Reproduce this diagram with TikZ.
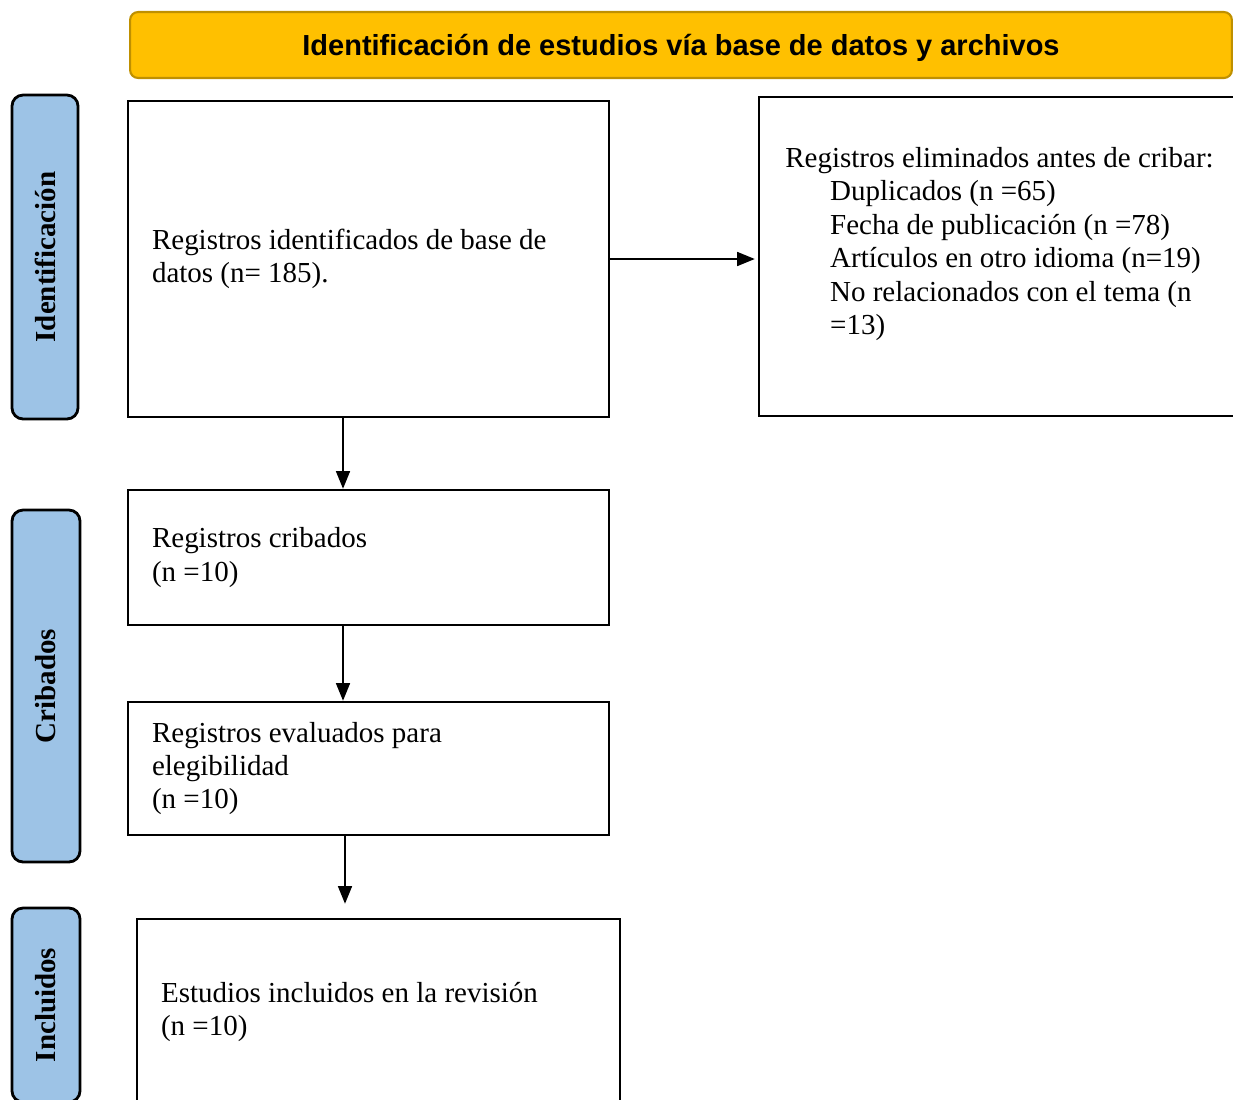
\documentclass[tikz,border=0pt]{standalone}
\usepackage{fontspec}
\setmainfont{Liberation Serif}
\newfontfamily\bannerfont{Liberation Sans}
\usetikzlibrary{arrows.meta, positioning}
\definecolor{bannergold}{HTML}{FFC000}
\definecolor{bannerrim}{HTML}{BF9000}
\definecolor{phaseblue}{HTML}{9DC3E6}

\begin{document}
\begin{tikzpicture}[x=0.02cm, y=-0.02cm,
    every node/.style={font=\fontsize{16.5}{19}\selectfont},
    recbox/.style={draw, line width=1.5pt, fill=white, align=flush left, inner xsep=0.48cm, inner ysep=0pt},
    phase/.style={draw, line width=1.6pt, fill=phaseblue, rounded corners=0.22cm, rotate=90, font=\fontsize{16.5}{19}\selectfont\bfseries},
    flow/.style={-{Triangle[length=10pt, width=8pt]}, line width=0.75pt}]
    \clip (0,0) rectangle (1233,1099);
    % bandeau
    \node[draw=bannerrim, line width=1.2pt, fill=bannergold, rounded corners=0.16cm, minimum width=22.04cm, minimum height=1.32cm, text depth=0pt, font=\bannerfont\fontsize{16.5}{19}\selectfont\bfseries] (banner) at (681,45) {Identificación de estudios vía base de datos y archivos};
    % fases
    \node[phase, minimum width=6.48cm, minimum height=1.32cm] (fase1) at (45,257) {Identificación};
    \node[phase, minimum width=7.04cm, minimum height=1.36cm] (fase2) at (46,686) {Cribados};
    \node[phase, minimum width=3.88cm, minimum height=1.36cm] (fase3) at (46,1005) {Incluidos};
    % registros
    \node[recbox, minimum width=9.62cm, minimum height=6.32cm, text width=8.66cm] (ident) at (368.5,259) {Registros identificados de base de\\ datos (n= 185).};
    \node[recbox, minimum width=10cm, minimum height=6.38cm] (elim) at (1009,256.5) {};
    \node[anchor=north west, inner sep=0pt, align=flush left] (elimtxt) at (785,147) {Registros eliminados antes de cribar:\\
        \hspace*{25.5pt}Duplicados (n =65)\\
        \hspace*{25.5pt}Fecha de publicación (n =78)\\
        \hspace*{25.5pt}Artículos en otro idioma (n=19)\\
        \hspace*{25.5pt}No relacionados con el tema (n\\
        \hspace*{25.5pt}=13)};
    \node[recbox, minimum width=9.62cm, minimum height=2.7cm, text width=8.66cm] (crib) at (368.5,557.5) {Registros cribados\\ (n =10)};
    \node[recbox, minimum width=9.62cm, minimum height=2.66cm, text width=8.66cm] (eleg) at (368.5,768.5) {Registros evaluados para\\ elegibilidad\\ (n =10)};
    \node[recbox, minimum width=9.66cm, minimum height=3.72cm, text width=8.7cm] (incl) at (378.5,1012) {Estudios incluidos en la revisión\\ (n =10)};
    % flechas
    \draw[flow, shorten >=0.06cm] (ident.east) -- (ident.east -| elim.west);
    \draw[flow] ([xshift=-0.51cm]ident.south) -- ([xshift=-0.51cm]crib.north);
    \draw[flow] ([xshift=-0.51cm]crib.south) -- ([xshift=-0.51cm]eleg.north);
    \draw[flow, shorten >=0.28cm] ([xshift=-0.47cm]eleg.south) -- ([xshift=-0.47cm]eleg.south |- incl.north);
\end{tikzpicture}
\end{document}
